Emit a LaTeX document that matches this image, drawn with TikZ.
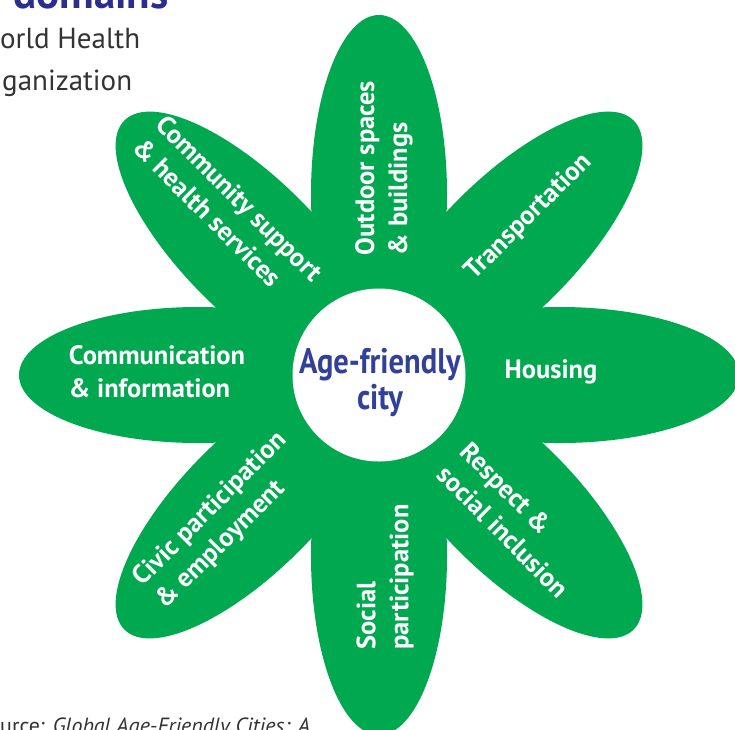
\documentclass[tikz,border=0pt]{standalone}
\usepackage{fontspec}
\setmainfont{PT Sans}
\newfontfamily\condfont[FakeStretch=0.86]{PT Sans}
\usetikzlibrary{shapes.geometric,calc}
\definecolor{petalgreen}{HTML}{00A84F}
\definecolor{cityblue}{HTML}{33409A}
\definecolor{titleblue}{HTML}{2B2E8C}
\definecolor{darkgray}{HTML}{333333}
\tikzset{
  petal/.style={ellipse, fill=petalgreen, inner sep=0pt, minimum width=358pt, minimum height=136pt},
  plabel/.style={text=white, font=\fontsize{26.5}{33}\selectfont\bfseries, align=left, inner sep=0pt},
  hub/.style={circle, fill=white, minimum size=173pt, inner sep=0pt},
  hubtext/.style={text=cityblue, font=\condfont\fontsize{35.5}{36}\selectfont\bfseries, align=center, inner sep=0pt},
  sidetext/.style={text=darkgray, font=\fontsize{29}{42}\selectfont, inner sep=0pt}
}
\begin{document}
\begin{tikzpicture}[x=1pt,y=-1pt]
\clip (0,0) rectangle (735,729);
\fill[white] (0,0) rectangle (735,729);
\coordinate (C) at (379,375);
% petals
\foreach \a/\n in {0/p1,45/p2,90/p3,135/p4,180/p5,225/p6,270/p7,315/p8}{
  \node[petal, rotate=\a] (\n) at ($(C)+(\a:-181pt)$) {};
}
\node[hub] (hub) at (C) {};
\node[hubtext] (city) at (380,383) {Age-friendly\\city};
% labels
\node[plabel, rotate=90] (outdoor) at (384,168) {Outdoor spaces\\\& buildings};
\node[plabel, rotate=45] (transport) at (529,217) {Transportation};
\node[plabel] (housing) at (551,372) {Housing};
\node[plabel, rotate=-45] (respect) at (515,520) {Respect \&\\social inclusion};
\node[plabel, rotate=90] (social) at (385,577) {Social\\participation};
\node[plabel, rotate=45] (civic) at (222,521) {Civic participation\\\& employment};
\node[plabel] (comm) at (157,372) {Communication\\\& information};
\node[plabel, rotate=-45] (community) at (228,210) {Community support\\\& health services};
% side texts
\node[text=titleblue, font=\fontsize{43}{43}\selectfont\bfseries, anchor=base west, inner sep=0pt] (title) at (13,8) {domains};
\node[sidetext, anchor=base west] (who1) at (0,48) {orld Health};
\node[sidetext, anchor=base west] (who2) at (2,90) {ganization};
\node[text=darkgray, font=\fontsize{22}{24}\selectfont, anchor=base west, inner sep=0pt] (src) at (0,733) {urce: \textit{Global Age-Friendly Cities: A}};
\end{tikzpicture}
\end{document}
